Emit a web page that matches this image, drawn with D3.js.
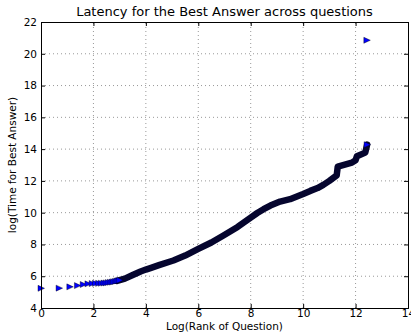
<!DOCTYPE html>
<html>
<head>
<meta charset="utf-8">
<script src="https://cdn.jsdelivr.net/npm/d3@7"></script>
<style>
  body { margin: 0; background: #fff; }
  text { font-family: "DejaVu Sans", sans-serif; fill: #000; }
</style>
</head>
<body>
<svg id="graph" width="411" height="333"></svg>
<script>
// sparse head of the curve: log(rank) for ranks 1..20, and log(time)
var headRank = [0, 0.69, 1.10, 1.39, 1.61, 1.79, 1.95, 2.08, 2.20, 2.30, 2.40, 2.48, 2.56, 2.64, 2.71, 2.77, 2.83, 2.89, 2.94, 3.00];
var headTime = [5.24, 5.25, 5.33, 5.41, 5.48, 5.52, 5.54, 5.55, 5.55, 5.56, 5.57, 5.58, 5.60, 5.62, 5.63, 5.65, 5.67, 5.70, 5.72, 5.75];

// dense part
var bodyRank = [2.90, 3.00, 3.20, 3.50, 3.80, 4.00, 4.20, 4.50, 5.05, 5.50, 6.00, 6.50, 6.96, 7.50, 8.00, 8.25, 8.49, 8.75, 9.12, 9.50, 10.00, 10.27, 10.55, 10.77, 11.00, 11.28, 11.32, 11.86, 12.00, 12.05, 12.37, 12.44];
var bodyTime = [5.70, 5.75, 5.85, 6.08, 6.30, 6.42, 6.53, 6.70, 6.99, 7.30, 7.72, 8.12, 8.56, 9.10, 9.69, 9.98, 10.22, 10.45, 10.70, 10.85, 11.18, 11.37, 11.55, 11.75, 12.00, 12.35, 12.90, 13.15, 13.30, 13.55, 13.78, 14.28];

// the lone outlier
var outRank = [12.43];
var outTime = [20.85];

var xTicks = [0, 2, 4, 6, 8, 10, 12, 14];
var yTicks = [4, 6, 8, 10, 12, 14, 16, 18, 20, 22];

var margin = {left: 41, right: 3, top: 22, bottom: 25};
var W = 411, H = 333;

var svg = d3.select("#graph");

var scX = d3.scaleLinear().domain([0, 14]).range([margin.left, W - margin.right]);
var scY = d3.scaleLinear().domain([4, 22]).range([H - margin.bottom, margin.top]);

// grid
svg.append("g").selectAll("line").data(xTicks.slice(1, -1)).enter().append("line")
  .attr("x1", d => scX(d)).attr("x2", d => scX(d))
  .attr("y1", scY(4)).attr("y2", scY(22))
  .attr("stroke", "#999").attr("stroke-width", 1).attr("stroke-dasharray", "1,3");
svg.append("g").selectAll("line").data(yTicks.slice(1, -1)).enter().append("line")
  .attr("x1", scX(0)).attr("x2", scX(14))
  .attr("y1", d => scY(d)).attr("y2", d => scY(d))
  .attr("stroke", "#999").attr("stroke-width", 1).attr("stroke-dasharray", "1,3");

// dense curve: overlapping markers look like a thick dark band
var line = d3.line().x((d, i) => scX(bodyRank[i])).y((d, i) => scY(bodyTime[i]));
svg.append("path")
  .attr("d", line(bodyRank))
  .attr("fill", "none")
  .attr("stroke", "#05052e")
  .attr("stroke-width", 6.5)
  .attr("stroke-linejoin", "round")
  .attr("stroke-linecap", "round");

// triangle markers
var tri = d => "M-3,-3L3.5,0L-3,3Z";
var pts = headRank.map((r, i) => [r, headTime[i]])
  .concat([[bodyRank[bodyRank.length - 1], bodyTime[bodyTime.length - 1]]])
  .concat(outRank.map((r, i) => [r, outTime[i]]));

svg.append("g").selectAll("path").data(pts).enter().append("path")
  .attr("d", tri)
  .attr("transform", d => `translate(${scX(d[0])},${scY(d[1])})`)
  .attr("fill", "#0000ff")
  .attr("stroke", "#000")
  .attr("stroke-width", 0.4);

// axes with inward ticks
var xAxis = d3.axisBottom(scX).tickValues(xTicks).tickSize(-4).tickPadding(3).tickFormat(d3.format("d"));
var yAxis = d3.axisLeft(scY).tickValues(yTicks).tickSize(-4).tickPadding(4).tickFormat(d3.format("d"));

var gx = svg.append("g").attr("transform", `translate(0,${scY(4)})`).call(xAxis);
var gy = svg.append("g").attr("transform", `translate(${scX(0)},0)`).call(yAxis);
var gx2 = svg.append("g").attr("transform", `translate(0,${scY(22)})`).call(d3.axisTop(scX).tickValues(xTicks).tickSize(-4).tickFormat(""));
var gy2 = svg.append("g").attr("transform", `translate(${scX(14)},0)`).call(d3.axisRight(scY).tickValues(yTicks).tickSize(-4).tickFormat(""));

[gx, gy, gx2, gy2].forEach(g => {
  g.select(".domain").attr("stroke", "#000").attr("stroke-width", 1);
  g.selectAll(".tick line").attr("stroke", "#000");
  g.selectAll("text").attr("font-size", 10.5).attr("font-family", "DejaVu Sans").attr("fill", "#000");
});
gx.selectAll("text").attr("dy", "0.6em");

// labels
svg.append("text").attr("x", (scX(0) + scX(14)) / 2).attr("y", 16)
  .attr("text-anchor", "middle").attr("font-size", 13)
  .text("Latency for the Best Answer across questions");
svg.append("text").attr("x", (scX(0) + scX(14)) / 2).attr("y", 330)
  .attr("text-anchor", "middle").attr("font-size", 10.5)
  .text("Log(Rank of Question)");
svg.append("text")
  .attr("transform", `translate(16,${(scY(4) + scY(22)) / 2}) rotate(-90)`)
  .attr("text-anchor", "middle").attr("font-size", 10.5)
  .text("log(Time for Best Answer)");
</script>
</body>
</html>
